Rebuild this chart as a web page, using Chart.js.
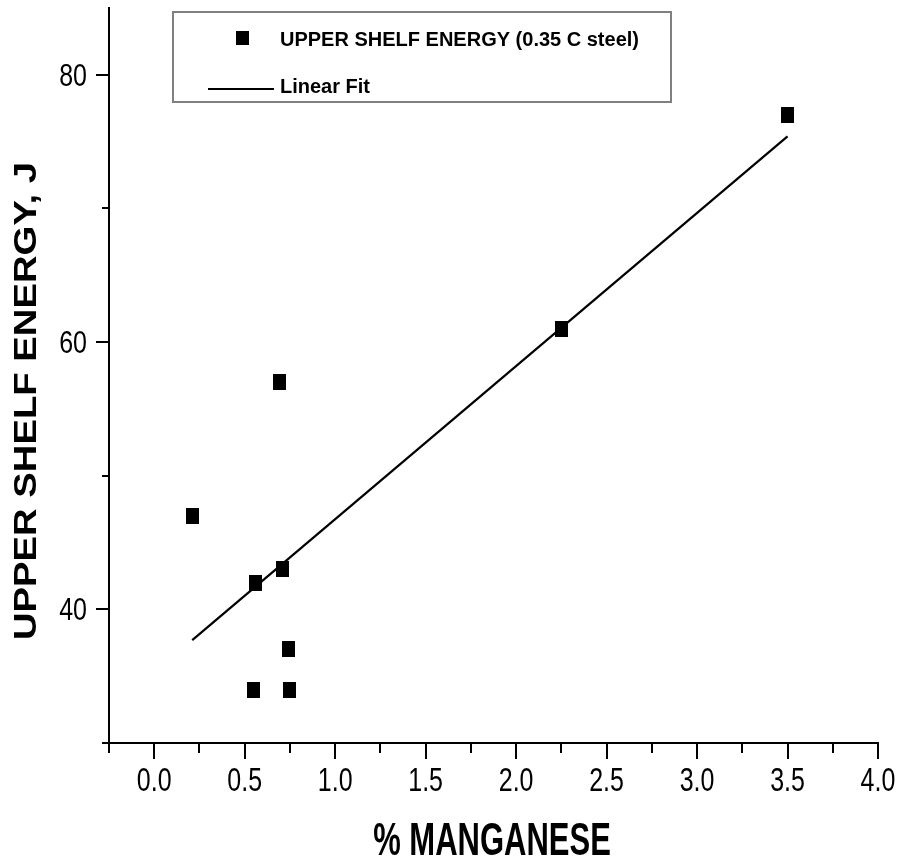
<!DOCTYPE html>
<html>
<head>
  <title>Upper Shelf Energy vs % Manganese</title>
  <meta charset="UTF-8">
  <script src="https://cdn.jsdelivr.net/npm/chart.js"></script>
  <style>
    body {
      margin: 0;
      background-color: #ffffff;
    }
    canvas {
      display: block;
    }
  </style>
</head>
<body>
  <canvas id="energyChart" width="898" height="861"></canvas>

  <script>
    const manganese = [0.21, 0.55, 0.56, 0.69, 0.71, 0.74, 0.75, 2.25, 3.5];
    const shelfEnergy = [47, 34, 42, 57, 43, 37, 34, 61, 77];

    // Ends of the fitted line
    const fitX = [0.21, 3.5];
    const fitY = [37.7, 75.4];

    // Labelled ticks
    const xTickLabels = ['0.0', '0.5', '1.0', '1.5', '2.0', '2.5', '3.0', '3.5', '4.0'];
    const yTickLabels = ['40', '60', '80'];

    const seriesLabel = 'UPPER SHELF ENERGY (0.35 C steel)';
    const fitLabel = 'Linear Fit';
    const xTitle = '% MANGANESE';
    const yTitle = 'UPPER SHELF ENERGY, J';

    // the original picture is stretched vertically, so the marker is a bit taller than wide
    const marker = document.createElement('canvas');
    marker.width = 13;
    marker.height = 16;
    const mctx = marker.getContext('2d');
    mctx.fillStyle = '#000';
    mctx.fillRect(0, 0, 13, 16);

    const isOn = (v, step) => Math.abs(v / step - Math.round(v / step)) < 1e-6;

    const labelFor = (labels, value) =>
      labels.find(l => Math.abs(parseFloat(l) - value) < 1e-6);

    function stretchText(ctx, text, x, y, sx, sy, rot) {
      ctx.save();
      ctx.translate(x, y);
      if (rot) ctx.rotate(rot);
      ctx.scale(sx, sy);
      ctx.fillText(text, 0, 0);
      ctx.restore();
    }

    // tick labels, axis titles and the boxed legend
    const textPlugin = {
      id: 'stretchedText',
      afterDraw(chart) {
        const ctx = chart.ctx;
        const xs = chart.scales.x;
        const ys = chart.scales.y;
        ctx.save();
        ctx.fillStyle = '#000';
        ctx.textBaseline = 'alphabetic';

        ctx.font = '25px "Liberation Sans", Arial, sans-serif';
        ctx.textAlign = 'center';
        xs.ticks.forEach(t => {
          const lbl = labelFor(xTickLabels, t.value);
          if (lbl) stretchText(ctx, lbl, xs.getPixelForValue(t.value), xs.top + 48, 1, 1.34);
        });

        ctx.textAlign = 'right';
        ys.ticks.forEach(t => {
          const lbl = labelFor(yTickLabels, t.value);
          if (lbl) stretchText(ctx, lbl, ys.right - 22, ys.getPixelForValue(t.value) + 11, 1, 1.24);
        });

        ctx.textAlign = 'center';
        ctx.font = 'bold 31px "Liberation Sans", Arial, sans-serif';
        stretchText(ctx, xTitle, 492, 855, 1, 1.48);

        ctx.font = 'bold 30.7px "Liberation Sans", Arial, sans-serif';
        stretchText(ctx, yTitle, 36, 401, 1.246, 1, -Math.PI / 2);

        // legend
        const ds = chart.data.datasets;
        ctx.strokeStyle = '#808080';
        ctx.lineWidth = 2;
        ctx.strokeRect(173, 12, 498, 90);

        ctx.fillRect(236, 31, 13, 14);
        ctx.font = 'bold 20px "Liberation Sans", Arial, sans-serif';
        ctx.textAlign = 'left';
        ctx.fillText(ds[0].label, 280, 46);

        ctx.strokeStyle = '#000';
        ctx.beginPath();
        ctx.moveTo(208, 89);
        ctx.lineTo(274, 89);
        ctx.stroke();
        ctx.fillText(ds[1].label, 280, 93);

        ctx.restore();
      }
    };

    const ctx = document.getElementById('energyChart').getContext('2d');
    new Chart(ctx, {
      type: 'scatter',
      data: {
        datasets: [{
          label: seriesLabel,
          data: manganese.map((x, i) => ({ x: x, y: shelfEnergy[i] })),
          pointStyle: marker,
          pointRadius: 7,
          pointHoverRadius: 7
        }, {
          label: fitLabel,
          data: fitX.map((x, i) => ({ x: x, y: fitY[i] })),
          showLine: true,
          borderColor: '#000',
          borderWidth: 2.2,
          pointRadius: 0,
          pointHoverRadius: 0
        }]
      },
      options: {
        responsive: false,
        animation: false,
        layout: {
          padding: { left: 96, right: 20, top: 5, bottom: 102 }
        },
        scales: {
          x: {
            type: 'linear',
            min: -0.25,
            max: 4.0,
            border: { color: '#000', width: 2 },
            grid: {
              drawOnChartArea: false,
              color: '#000',
              lineWidth: 2,
              tickLength: 16,
              tickBorderDash: c => isOn(c.tick.value, 0.5) ? [] : [9, 40]
            },
            ticks: { stepSize: 0.25, display: false }
          },
          y: {
            type: 'linear',
            min: 30,
            max: 85,
            border: { color: '#000', width: 2 },
            grid: {
              drawOnChartArea: false,
              color: '#000',
              lineWidth: 2,
              tickLength: 13,
              // left ticks are drawn from the outer end in, so skip the first 6px
              tickBorderDash: c => isOn(c.tick.value, 20) ? [] : [0, 6, 7, 40]
            },
            ticks: { stepSize: 10, includeBounds: false, display: false }
          }
        },
        plugins: {
          legend: { display: false },
          tooltip: { enabled: false }
        }
      },
      plugins: [textPlugin]
    });
  </script>
</body>
</html>
